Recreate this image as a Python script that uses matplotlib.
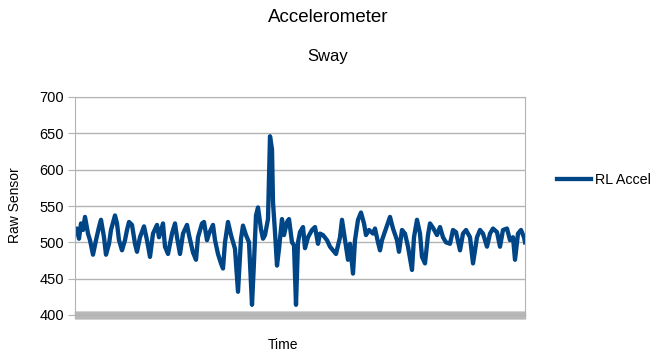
import numpy as np
import matplotlib.pyplot as plt

plt.rcParams['font.family'] = ['Liberation Sans', 'DejaVu Sans']

# sample index (time) and raw sensor reading (10 per row)
sample = [0, 2, 4, 6, 8, 10, 13, 15, 18, 21,
          24, 26, 29, 31, 34, 36, 40, 42, 44, 47,
          50, 52, 54, 57, 60, 62, 65, 69, 72, 75,
          78, 82, 84, 88, 90, 93, 97, 100, 102, 105,
          108, 112, 114, 118, 121, 123, 127, 129, 132, 134,
          138, 140, 143, 146, 148, 150, 153, 156, 160, 163,
          166, 168, 171, 174, 177, 179, 181, 183, 186, 188,
          190, 193, 195, 197, 198, 200, 202, 204, 207, 209,
          212, 214, 217, 219, 221, 223, 225, 228, 230, 233,
          237, 240, 243, 245, 248, 252, 255, 258, 261, 265,
          267, 270, 273, 275, 278, 280, 283, 286, 289, 291,
          294, 298, 300, 303, 305, 307, 311, 315, 318, 322,
          324, 327, 330, 333, 337, 339, 342, 345, 347, 350,
          353, 355, 358, 362, 365, 368, 371, 375, 378, 381,
          385, 388, 391, 395, 398, 402, 405, 408, 412, 415,
          418, 422, 425, 428, 432, 435, 438, 440, 443, 446,
          449, 450]
raw = [512, 519, 505, 526, 517, 535, 512, 503, 483, 503,
       521, 531, 507, 483, 498, 517, 537, 526, 503, 489,
       503, 517, 528, 524, 498, 487, 507, 522, 503, 480,
       512, 524, 507, 526, 494, 484, 512, 526, 507, 484,
       512, 524, 510, 486, 476, 507, 526, 528, 503, 512,
       524, 503, 484, 471, 464, 500, 528, 510, 491, 432,
       505, 523, 510, 500, 414, 473, 537, 548, 518, 505,
       510, 532, 646, 628, 555, 514, 468, 491, 532, 510,
       528, 532, 500, 496, 414, 500, 514, 521, 492, 507,
       517, 521, 498, 512, 510, 503, 494, 489, 484, 507,
       531, 503, 476, 498, 457, 503, 531, 541, 526, 510,
       517, 512, 519, 500, 489, 503, 519, 535, 519, 503,
       487, 517, 512, 494, 462, 507, 531, 512, 480, 471,
       510, 526, 520, 510, 521, 507, 500, 498, 517, 514,
       489, 512, 517, 507, 471, 507, 517, 512, 494, 512,
       519, 514, 494, 517, 519, 503, 507, 476, 512, 517,
       507, 500]

y_ticks = [400, 450, 500, 550, 600, 650, 700]
grid_col = '#b3b3b3'

fig = plt.figure(figsize=(6.56, 3.54), dpi=100)
ax = fig.add_axes([75/656, 1-315/354, 450/656, 218/354])

ax.plot(sample, raw, color='#004586', lw=3.1, label='RL Accel', solid_joinstyle='round')

ax.set_xlim(0, 450)
ax.set_ylim(400, 700)
ax.set_yticks(y_ticks)
ax.yaxis.grid(True, color=grid_col, lw=1)
ax.set_axisbelow(True)
ax.set_xticks(np.arange(0, 451, 1))
ax.set_xticklabels([])
ax.tick_params(axis='x', direction='inout', length=6, width=1.0, color='#b8b8b8')
ax.tick_params(axis='y', length=5, color=grid_col, labelsize=10.5, pad=3)
for s in ax.spines.values():
    s.set_color(grid_col)

fig.text(0.5, 1-18/354, 'Accelerometer', ha='center', va='center', fontsize=13.5)
fig.text(0.5, 1-57/354, 'Sway', ha='center', va='center', fontsize=12)
fig.text(15/656, 1-205/354, 'Raw Sensor', rotation=90, ha='center', va='center', fontsize=10)
fig.text(283/656, 1-345/354, 'Time', ha='center', va='center', fontsize=10)

fig.legend(loc='center left', bbox_to_anchor=(557/656, 1-180/354), frameon=False,
           fontsize=10.3, handlelength=2.4, handletextpad=0.25, borderpad=0, borderaxespad=0)

fig.savefig('out.png', dpi=100)
